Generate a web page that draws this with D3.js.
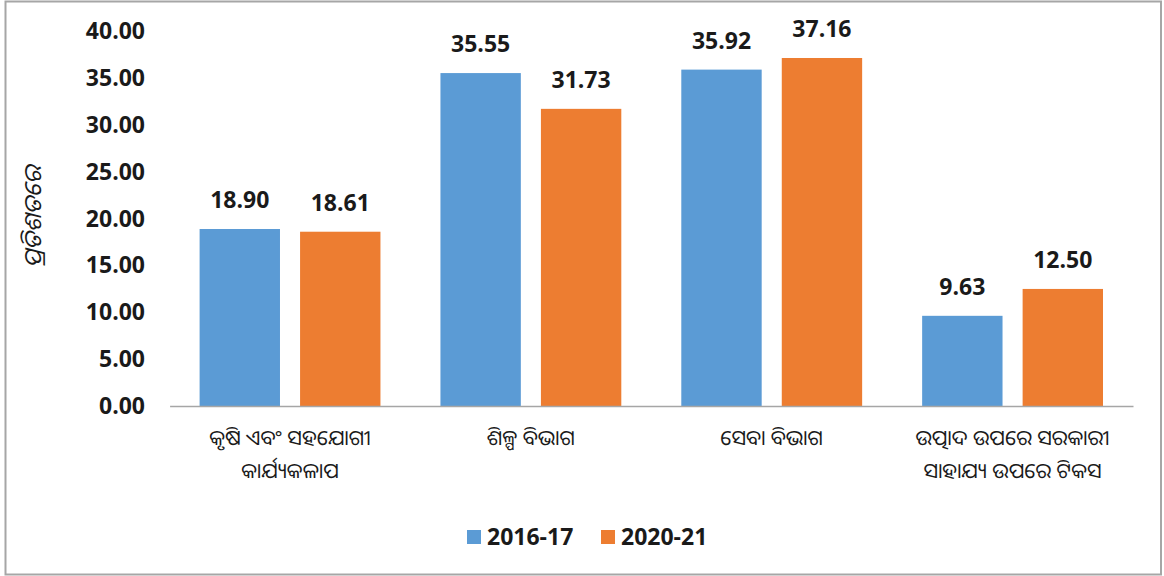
<!DOCTYPE html>
<html><head><meta charset="utf-8">
<script src="https://cdn.jsdelivr.net/npm/d3@7"></script>
<style>body{margin:0;background:#fff;}svg{display:block;}</style>
</head><body>
<svg id="c" width="1164" height="576"></svg>
<script>
const categories = [["କୃଷି ଏବଂ ସହଯୋଗୀ","କାର୍ଯ୍ୟକଳାପ"],["ଶିଳ୍ପ ବିଭାଗ"],["ସେବା ବିଭାଗ"],["ଉତ୍ପାଦ ଉପରେ ସରକାରୀ","ସାହାଯ୍ୟ ଉପରେ ଟିକସ"]];
const series = ["2016-17","2020-21"];
const values2016 = [18.90, 35.55, 35.92, 9.63];
const values2020 = [18.61, 31.73, 37.16, 12.50];
const yTicks = [0,5,10,15,20,25,30,35,40];
const yTitle = "ପ୍ରତିଶତରେ";
const colors = ["#5b9bd5","#ed7d31"];

const svg = d3.select("#c");
const font = "'Open Sans', sans-serif";
svg.append("rect").attr("x",5.5).attr("y",1.5).attr("width",1155.5).attr("height",573).attr("fill","#fff").attr("stroke","#a6a6a6").attr("stroke-width",2);

const x0 = d3.scaleBand().domain(d3.range(categories.length)).range([169.6,1133]).paddingInner(0).paddingOuter(0);
const x1 = d3.scaleBand().domain(series).range([30, x0.bandwidth()-30]).paddingInner(0.2);
const y = d3.scaleLinear().domain([0,40]).range([406,31.4]);

// y axis labels
const yAxis = svg.append("g").attr("transform","translate(145,0)")
  .call(d3.axisLeft(y).tickValues(yTicks).tickFormat(d=>d3.format(".2f")(d)).tickSize(0).tickPadding(0));
yAxis.select(".domain").remove();
yAxis.selectAll("text").attr("font-family",font).attr("font-weight","bold").attr("font-size","23px").attr("fill","#1a1a1a");

const data = categories.map((c,i)=>({i, vals:[values2016[i], values2020[i]]}));
const g = svg.append("g");
const grp = g.selectAll("g.cat").data(data).join("g").attr("transform",d=>`translate(${x0(d.i)},0)`);
grp.selectAll("rect").data(d=>d.vals.map((v,k)=>({v,k}))).join("rect")
  .attr("x",d=>x1(series[d.k])).attr("width",x1.bandwidth())
  .attr("y",d=>y(d.v)).attr("height",d=>y(0)-y(d.v)).attr("fill",d=>colors[d.k]);
grp.selectAll("text.val").data(d=>d.vals.map((v,k)=>({v,k}))).join("text").attr("class","val")
  .attr("x",d=>x1(series[d.k])+x1.bandwidth()/2).attr("y",d=>y(d.v)-21)
  .attr("text-anchor","middle").attr("font-family",font).attr("font-weight","bold").attr("font-size","23px").attr("fill","#1a1a1a")
  .text(d=>d3.format(".2f")(d.v));

// x axis
const xAxis = svg.append("g").attr("transform",`translate(0,${y(0)})`)
  .call(d3.axisBottom(x0).tickSize(0).tickFormat(""));
xAxis.select(".domain").attr("stroke","#a6a6a6").attr("stroke-width",1.5);
const lab = svg.append("g").selectAll("text").data(categories).join("text")
  .attr("x",(d,i)=>x0(i)+x0.bandwidth()/2).attr("y",445)
  .attr("text-anchor","middle").attr("font-family","'Noto Sans Oriya','Noto Sans', sans-serif").attr("font-size","21px").attr("fill","#1a1a1a");
lab.selectAll("tspan").data(d=>d).join("tspan").attr("x",function(){return this.parentNode.getAttribute("x");})
  .attr("dy",(d,j)=>j===0?0:33).text(d=>d);

// y title
svg.append("text").attr("transform","translate(41,217) rotate(-90)").attr("text-anchor","middle")
  .attr("font-family","'Noto Sans Oriya','Noto Sans', sans-serif").attr("font-style","italic").attr("font-size","24px").attr("fill","#1a1a1a").text(yTitle);

// legend
const leg = svg.append("g");
const lx = [467, 601];
series.forEach((s,k)=>{
  leg.append("rect").attr("x",lx[k]).attr("y",530).attr("width",14).attr("height",14).attr("fill",colors[k]);
  leg.append("text").attr("x",lx[k]+20).attr("y",545).attr("font-family",font).attr("font-weight","bold").attr("font-size","23px").attr("fill","#1a1a1a").text(s);
});
</script>
</body></html>
